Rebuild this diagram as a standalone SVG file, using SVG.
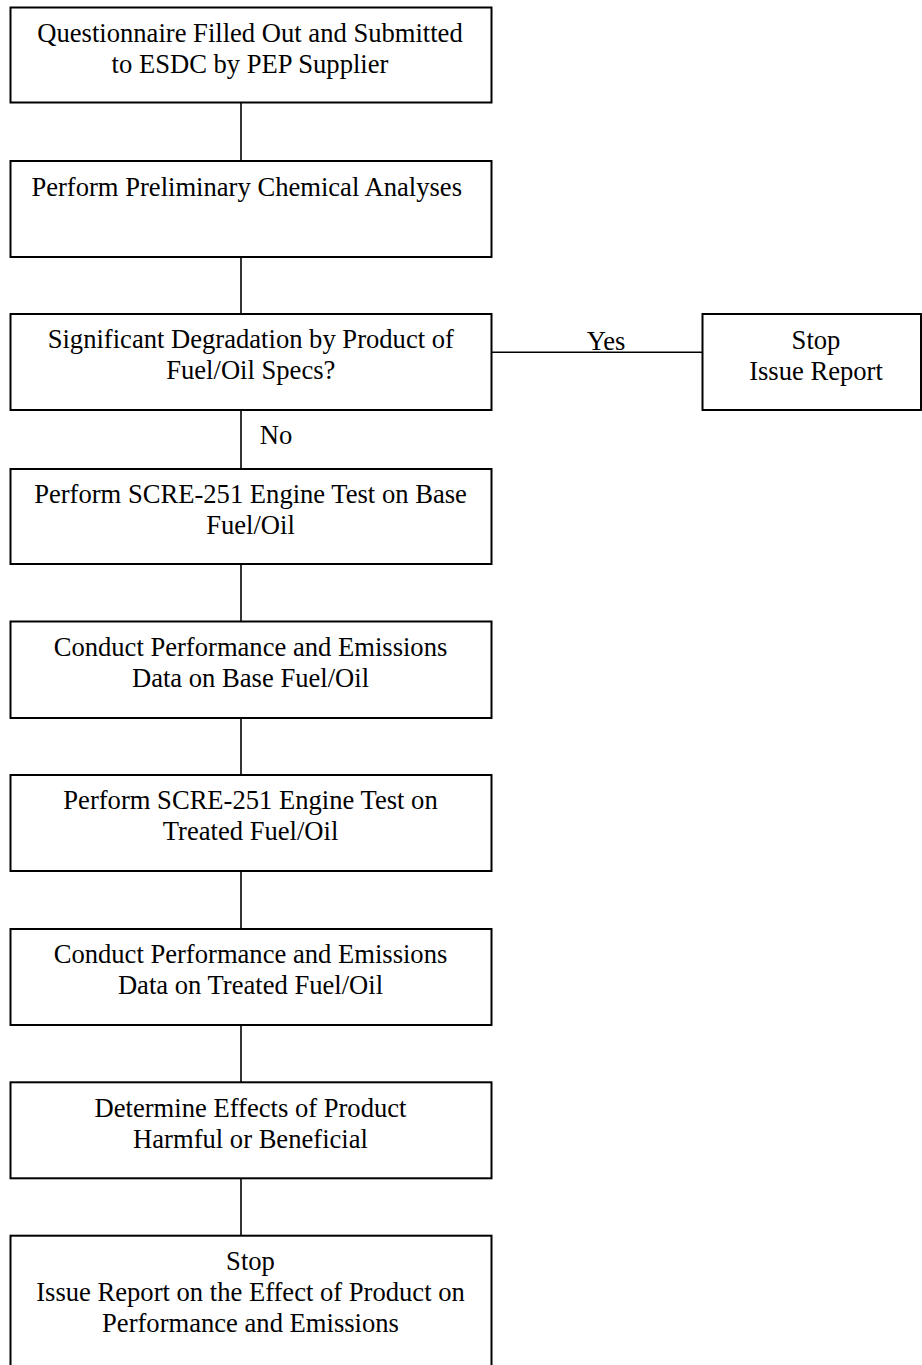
<svg xmlns="http://www.w3.org/2000/svg" width="922" height="1365" viewBox="0 0 922 1365">
<style>
.box{fill:#fff;stroke:#000;stroke-width:2}
.ln{stroke:#000;stroke-width:1.6;fill:none}
text{font-family:"Liberation Serif","Times New Roman",serif;font-size:26.6px;fill:#000;text-anchor:middle}
</style>
<rect width="922" height="1365" fill="#fff"/>
<g id="connectors">
<line class="ln" x1="241" y1="102.5" x2="241" y2="161"/>
<line class="ln" x1="241" y1="257" x2="241" y2="314"/>
<line class="ln" x1="241" y1="410" x2="241" y2="469"/>
<line class="ln" x1="491.5" y1="352.3" x2="702.5" y2="352.3"/>
<text x="606" y="350">Yes</text>
<text x="276" y="444.3">No</text>
<line class="ln" x1="241" y1="564" x2="241" y2="621.5"/>
<line class="ln" x1="241" y1="718" x2="241" y2="775"/>
<line class="ln" x1="241" y1="871" x2="241" y2="929"/>
<line class="ln" x1="241" y1="1025" x2="241" y2="1082.3"/>
<line class="ln" x1="241" y1="1178.3" x2="241" y2="1235.7"/>
</g>
<g id="n1"><rect class="box" x="10.5" y="7.5" width="481" height="95"/>
<text x="250" y="41.7">Questionnaire Filled Out and Submitted</text>
<text x="250" y="72.7">to ESDC by PEP Supplier</text></g>
<g id="n2"><rect class="box" x="10.5" y="161" width="481" height="96"/>
<text x="246.7" y="196">Perform Preliminary Chemical Analyses</text></g>
<g id="n3"><rect class="box" x="10.5" y="314" width="481" height="96"/>
<text x="250.8" y="348.3">Significant Degradation by Product of</text>
<text x="250.8" y="379.3">Fuel/Oil Specs?</text></g>
<g id="n3b"><rect class="box" x="702.5" y="314" width="218.5" height="96"/>
<text x="816" y="349">Stop</text>
<text x="816" y="380">Issue Report</text></g>
<g id="n4"><rect class="box" x="10.5" y="469" width="481" height="95"/>
<text x="250.5" y="503.3">Perform SCRE-251 Engine Test on Base</text>
<text x="250.5" y="534.3">Fuel/Oil</text></g>
<g id="n5"><rect class="box" x="10.5" y="621.5" width="481" height="96.5"/>
<text x="250.5" y="656">Conduct Performance and Emissions</text>
<text x="250.5" y="687">Data on Base Fuel/Oil</text></g>
<g id="n6"><rect class="box" x="10.5" y="775" width="481" height="96"/>
<text x="250.5" y="809.3">Perform SCRE-251 Engine Test on</text>
<text x="250.5" y="840.3">Treated Fuel/Oil</text></g>
<g id="n7"><rect class="box" x="10.5" y="929" width="481" height="96"/>
<text x="250.5" y="963.3">Conduct Performance and Emissions</text>
<text x="250.5" y="994.3">Data on Treated Fuel/Oil</text></g>
<g id="n8"><rect class="box" x="10.5" y="1082.3" width="481" height="96"/>
<text x="250.5" y="1116.6">Determine Effects of Product</text>
<text x="250.5" y="1147.6">Harmful or Beneficial</text></g>
<g id="n9"><rect class="box" x="10.5" y="1235.7" width="481" height="140"/>
<text x="250.5" y="1270">Stop</text>
<text x="250.5" y="1300.7">Issue Report on the Effect of Product on</text>
<text x="250.5" y="1331.7">Performance and Emissions</text></g>
</svg>
